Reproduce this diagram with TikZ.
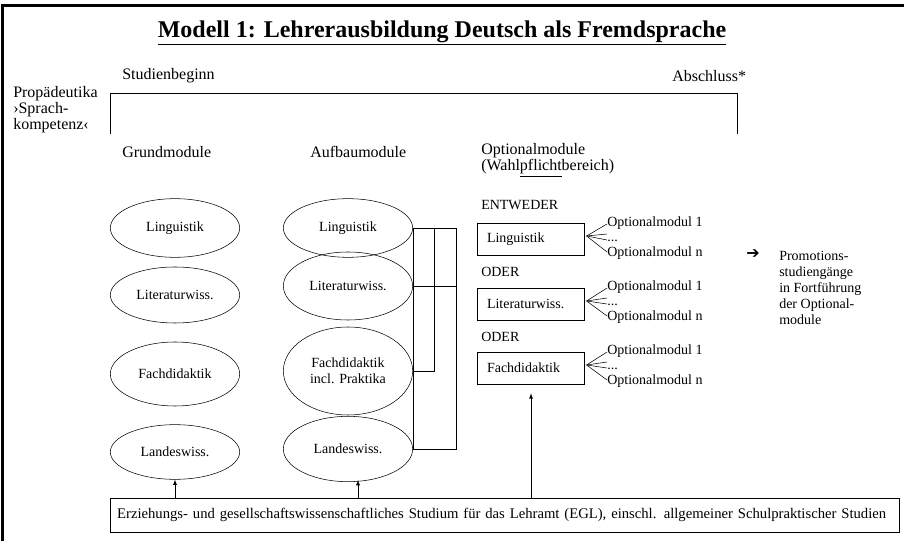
\documentclass[tikz,border=0pt]{standalone}
\usepackage{fontspec}
\setmainfont{Liberation Serif}
\newfontfamily\symfont{DejaVu Sans}
\usepackage{tikz}
\usetikzlibrary{shapes,arrows,calc}

\tikzset{
  modul/.style={ellipse, draw, inner sep=0pt, minimum width=97pt, align=center, font=\fontsize{10.5}{12}\selectfont},
  optbox/.style={rectangle, draw, inner xsep=7pt, inner ysep=0pt, text width=66pt, minimum height=24pt, align=left, font=\fontsize{10.5}{12}\selectfont},
  head/.style={anchor=west, inner sep=0pt, align=left, font=\fontsize{12}{12}\selectfont},
  small/.style={anchor=west, inner sep=0pt, font=\fontsize{10.5}{12}\selectfont},
}

\begin{document}
\begin{tikzpicture}[x=0.75pt,y=-0.75pt]
\useasboundingbox (0,0) rectangle (904,541);

% frame
\draw [line width=2.25pt] (2,541) -- (2,5.5) -- (904,5.5);

\node [font=\fontsize{18}{18}\selectfont\bfseries] (titel) at (442,33) {\underline{Modell 1: Lehrerausbildung Deutsch als Fremdsprache}};

\node [head] (beginn) at (122,76) {Studienbeginn};
\node [head] (abschluss) at (672,76) {Abschluss*};
\node [head] (prop) at (13,110) {Prop\"adeutika\\›Sprach-\\kompetenz‹};
\draw (110,134) -- (110,93) -- (737,93) -- (737,134);

\node [head] (grund) at (122,152) {Grundmodule};
\node [head] (aufbau) at (310,152) {Aufbaumodule};
\node [head] (option) at (481,160) {Optionalmodule\\(Wahl\underline{pflicht}bereich)};

% Grundmodule
\node [modul, minimum height=44pt] (grundLing) at (175,228) {Linguistik};
\node [modul, minimum height=42pt] (grundLit) at (175,295) {Literaturwiss.};
\node [modul, minimum height=48pt] (grundFach) at (175,374) {Fachdidaktik};
\node [modul, minimum height=41pt] (grundLand) at (175,452) {Landeswiss.};

% Aufbaumodule
\node [modul, minimum height=44pt] (aufbLing) at (348,228) {Linguistik};
\node [modul, minimum height=51pt] (aufbLit) at (348,286) {Literaturwiss.};
\node [modul, minimum height=66pt] (aufbFach) at (348,371) {Fachdidaktik\\incl. Praktika};
\node [modul, minimum height=49pt] (aufbLand) at (348,449) {Landeswiss.};

\coordinate (br1) at (434,0);
\coordinate (br2) at (456,0);
\draw (aufbLing.east) -- (aufbLand.east);
\draw (aufbLing.east) -- (aufbLing.east -| br2) -- (aufbLand.east -| br2) -- (aufbLand.east);
\draw (aufbLing.east -| br1) -- (aufbFach.east -| br1) -- (aufbFach.east);
\draw (aufbLit.east) -- (aufbLit.east -| br2);

% Optionalmodule
\node [small] (entweder) at (481,205) {ENTWEDER};
\node [optbox] (optLing) at (531,239) {Linguistik};
\node [small] (oder1) at (481,272) {ODER};
\node [optbox] (optLit) at (531,304) {Literaturwiss.};
\node [small] (oder2) at (481,337) {ODER};
\node [optbox] (optFach) at (531,368) {Fachdidaktik};

\foreach \fach/\y in {Ling/238, Lit/302, Fach/366}{
  \node [small, align=left, font=\fontsize{10.5}{11}\selectfont] (\fach Liste) at (607,\y) {Optionalmodul 1\\...\\Optionalmodul n};
  \coordinate (\fach Fan) at ($(opt\fach.east)+(2,-3)$);
  \draw (\fach Fan) -- ($(\fach Liste.west)+(0,-14)$);
  \draw (\fach Fan) -- ($(\fach Liste.west)+(0,-4)$);
  \draw (\fach Fan) -- ($(\fach Liste.west)+(0,2)$);
  \draw (\fach Fan) -- ($(\fach Liste.west)+(0,14)$);
}

\node [font=\symfont\fontsize{12}{12}\selectfont, inner sep=0pt] (pfeil) at (753,254) {➔};
\node [anchor=west, inner sep=0pt, align=left, font=\fontsize{10.5}{12}\selectfont] (promo) at (779,288) {Promotions-\\studieng\"ange\\in Fortf\"uhrung\\der Optional-\\module};

% EGL
\node [draw, rectangle, minimum width=591.75pt, minimum height=25.5pt, inner xsep=5pt, align=left, text width=581pt, font=\fontsize{11}{12}\selectfont] (egl) at (504.5,515) {Erziehungs- und gesellschaftswissenschaftliches Studium f\"ur das Lehramt (EGL), einschl. allgemeiner Schulpraktischer Studien};

\coordinate (landPfeil) at (358,480);
\draw [-latex] (egl.north -| grundLand.south) -- (grundLand.south);
\draw [-latex] (egl.north -| landPfeil) -- (landPfeil);
\draw [-latex] (egl.north -| optFach.south) -- ($(optFach.south)+(0,9)$);

\end{tikzpicture}
\end{document}
